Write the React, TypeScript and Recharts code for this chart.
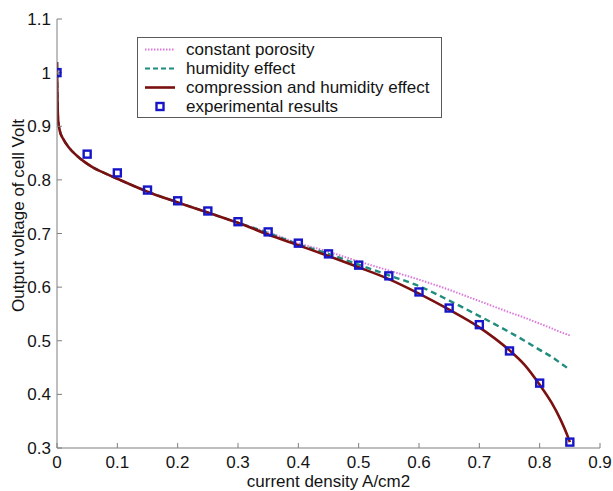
import {
  ComposedChart,
  Line,
  Scatter,
  XAxis,
  YAxis,
  Legend,
} from "recharts";

// current density samples used by the model curves (A/cm2)
const curveX = [
  0, 0.0005, 0.002, 0.005, 0.01, 0.02, 0.03, 0.045, 0.06, 0.08, 0.1, 0.15,
  0.2, 0.25, 0.3, 0.35, 0.4, 0.45, 0.5, 0.55, 0.6, 0.65, 0.7, 0.75, 0.775,
  0.8, 0.82, 0.835, 0.845, 0.85,
];

const constantPorosity = [
  1.02, 0.97, 0.91, 0.89, 0.877, 0.86, 0.848, 0.834, 0.823, 0.812, 0.802,
  0.778, 0.758, 0.739, 0.72, 0.702, 0.682, 0.666, 0.648, 0.631, 0.614, 0.595,
  0.574, 0.553, 0.543, 0.532, 0.523, 0.516, 0.512, 0.51,
];

const humidityEffect = [
  1.02, 0.97, 0.91, 0.89, 0.877, 0.86, 0.848, 0.834, 0.823, 0.812, 0.802,
  0.778, 0.758, 0.739, 0.72, 0.701, 0.68, 0.662, 0.642, 0.622, 0.602, 0.575,
  0.546, 0.516, 0.5, 0.483, 0.47, 0.458, 0.45, 0.445,
];

const compressionHumidity = [
  1.02, 0.97, 0.91, 0.89, 0.877, 0.86, 0.848, 0.834, 0.823, 0.812, 0.802,
  0.778, 0.758, 0.739, 0.72, 0.698, 0.678, 0.658, 0.637, 0.615, 0.588, 0.558,
  0.525, 0.482, 0.455, 0.418, 0.384, 0.352, 0.326, 0.311,
];

const expX = [
  0, 0.05, 0.1, 0.15, 0.2, 0.25, 0.3, 0.35, 0.4, 0.45, 0.5, 0.55, 0.6, 0.65,
  0.7, 0.75, 0.8, 0.85,
];
const expVoltage = [
  1.0, 0.848, 0.813, 0.781, 0.761, 0.742, 0.722, 0.703, 0.682, 0.662, 0.641,
  0.621, 0.591, 0.561, 0.53, 0.481, 0.421, 0.311,
];

const xTicks = [0, 0.1, 0.2, 0.3, 0.4, 0.5, 0.6, 0.7, 0.8, 0.9];
const yTicks = [0.3, 0.4, 0.5, 0.6, 0.7, 0.8, 0.9, 1, 1.1];

const legendNames = [
  "constant porosity",
  "humidity effect",
  "compression and humidity effect",
  "experimental results",
];

const FONT = "'Liberation Sans', Arial, Helvetica, sans-serif";
const PINK = "#dc78dc";
const TEAL = "#1f8c7e";
const RED = "#7a1010";
const BLUE = "#1616c8";
const AXIS = "#7f7f7f";

const toPoints = (xs: number[], ys: number[]) =>
  xs.map((x, i) => ({ x, v: ys[i] }));

const SquareMarker = (props: any) => {
  const { cx, cy } = props;
  if (cx == null || cy == null) return null;
  return (
    <rect
      x={cx - 3.5}
      y={cy - 3.5}
      width={7}
      height={7}
      fill="none"
      stroke={BLUE}
      strokeWidth={2.4}
    />
  );
};

const LegendBox = () => {
  const rowY = [12.5, 31.5, 50.5, 69.5];
  return (
    <svg width={305} height={81} style={{ display: "block" }}>
      <rect x={0.5} y={0.5} width={304} height={80} fill="#fff" stroke="#5a5a5a" />
      <line x1={8} x2={38} y1={rowY[0]} y2={rowY[0]} stroke={PINK} strokeWidth={2} strokeDasharray="1.5 1.5" />
      <line x1={8} x2={38} y1={rowY[1]} y2={rowY[1]} stroke={TEAL} strokeWidth={2.2} strokeDasharray="5 3" />
      <line x1={8} x2={38} y1={rowY[2]} y2={rowY[2]} stroke={RED} strokeWidth={2.6} />
      <rect x={19.5} y={rowY[3] - 3.5} width={7} height={7} fill="none" stroke={BLUE} strokeWidth={2.4} />
      {legendNames.map((name, i) => (
        <text
          key={name}
          x={49}
          y={rowY[i]}
          dominantBaseline="central"
          fontFamily={FONT}
          fontSize={17}
          fill="#141414"
        >
          {name}
        </text>
      ))}
    </svg>
  );
};

const YLabel = ({ viewBox }: any) => {
  const x = viewBox.x + 1;
  const y = viewBox.y + viewBox.height / 2 - 18;
  return (
    <text
      x={x}
      y={y}
      transform={`rotate(-90, ${x}, ${y})`}
      textAnchor="middle"
      dominantBaseline="central"
      fontFamily={FONT}
      fontSize={17}
      fill="#141414"
    >
      Output voltage of cell Volt
    </text>
  );
};

export default function App() {
  const tickStyle = { fontFamily: FONT, fontSize: 17, fill: "#141414" };
  return (
    <div
      style={{
        position: "absolute",
        left: 0,
        top: 0,
        width: 613,
        height: 491,
        background: "#fff",
      }}
    >
      <ComposedChart
        width={613}
        height={491}
        margin={{ top: 19, right: 13, bottom: 0, left: 17 }}
      >
        <XAxis
          xAxisId="bottom"
          dataKey="x"
          type="number"
          domain={[0, 0.9]}
          ticks={xTicks}
          allowDataOverflow
          height={43}
          tickSize={-5}
          tickMargin={13}
          stroke={AXIS}
          tick={tickStyle}
          label={{
            value: "current density A/cm2",
            position: "insideBottom",
            offset: 4,
            style: { fontFamily: FONT, fontSize: 17, fill: "#141414" },
          }}
        />
        <XAxis
          xAxisId="top"
          orientation="top"
          type="number"
          domain={[0, 0.9]}
          ticks={xTicks}
          allowDataOverflow
          height={0}
          tickSize={-5}
          tick={false}
          stroke={AXIS}
        />
        <YAxis
          yAxisId="left"
          type="number"
          domain={[0.3, 1.1]}
          ticks={yTicks}
          allowDataOverflow
          width={40}
          tickSize={-5}
          tickMargin={11}
          stroke={AXIS}
          tick={tickStyle}
          label={{ content: YLabel }}
        />
        <YAxis
          yAxisId="right"
          orientation="right"
          type="number"
          domain={[0.3, 1.1]}
          ticks={yTicks}
          allowDataOverflow
          width={0}
          tickSize={-5}
          tick={false}
          stroke={AXIS}
        />
        <Legend
          layout="vertical"
          align="center"
          verticalAlign="middle"
          wrapperStyle={{ left: 137, top: 37, width: 305, height: 81 }}
          content={() => <LegendBox />}
        />
        <Line
          xAxisId="bottom"
          yAxisId="left"
          name={legendNames[0]}
          data={toPoints(curveX, constantPorosity)}
          dataKey="v"
          type="monotone"
          stroke={PINK}
          strokeWidth={2}
          strokeDasharray="1.5 1.5"
          dot={false}
          isAnimationActive={false}
        />
        <Line
          xAxisId="bottom"
          yAxisId="left"
          name={legendNames[1]}
          data={toPoints(curveX, humidityEffect)}
          dataKey="v"
          type="monotone"
          stroke={TEAL}
          strokeWidth={2.4}
          strokeDasharray="6 4"
          dot={false}
          isAnimationActive={false}
        />
        <Line
          xAxisId="bottom"
          yAxisId="left"
          name={legendNames[2]}
          data={toPoints(curveX, compressionHumidity)}
          dataKey="v"
          type="monotone"
          stroke={RED}
          strokeWidth={2.6}
          dot={false}
          isAnimationActive={false}
        />
        <Scatter
          xAxisId="bottom"
          yAxisId="left"
          name={legendNames[3]}
          data={toPoints(expX, expVoltage)}
          dataKey="v"
          shape={SquareMarker}
          isAnimationActive={false}
        />
      </ComposedChart>
    </div>
  );
}
